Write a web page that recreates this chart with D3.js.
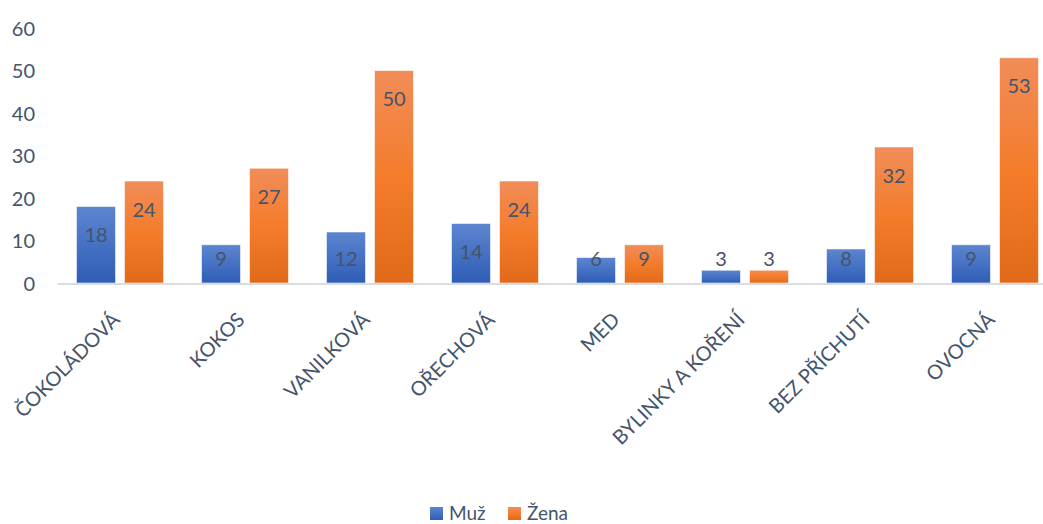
<!DOCTYPE html>
<html>
<head>
<meta charset="utf-8">
<script src="https://cdn.jsdelivr.net/npm/d3@7"></script>
<style>
  html, body { margin: 0; padding: 0; background: #ffffff; }
  svg { display: block; }
  text { font-family: Lato, "Open Sans", sans-serif; fill: #44546a; }
</style>
</head>
<body>
<svg id="chart" width="1043" height="524"></svg>
<script>
// Flavour preferences by gender
const categories = ["ČOKOLÁDOVÁ", "KOKOS", "VANILKOVÁ", "OŘECHOVÁ", "MED", "BYLINKY A KOŘENÍ", "BEZ PŘÍCHUTÍ", "OVOCNÁ"];
const seriesNames = ["Muž", "Žena"];
const muz = [18, 9, 12, 14, 6, 3, 8, 9];
const zena = [24, 27, 50, 24, 9, 3, 32, 53];
const yTicks = [0, 10, 20, 30, 40, 50, 60];

const svg = d3.select("#chart");
const W = 1043;

const x = d3.scaleBand().domain(categories).range([57.5, 1057.5]).paddingInner(0).paddingOuter(0);
const xs = d3.scaleBand().domain(seriesNames).range([0, x.bandwidth()]).paddingInner(0.1875).paddingOuter(0.396);
const y = d3.scaleLinear().domain([0, 60]).range([283, 28]);

// Gradients for the two series
const defs = svg.append("defs");
const grads = {
  "Muž": [["0%", "#5d85cf"], ["50%", "#4672c4"], ["100%", "#2e5db5"]],
  "Žena": [["0%", "#f18d59"], ["50%", "#f47c2b"], ["100%", "#e16a19"]]
};
seriesNames.forEach((s, i) => {
  const g = defs.append("linearGradient").attr("id", "grad" + i)
    .attr("x1", 0).attr("y1", 0).attr("x2", 0).attr("y2", 1);
  grads[s].forEach(([o, c]) => g.append("stop").attr("offset", o).attr("stop-color", c));
});

// Y axis labels (no axis line)
const yAxis = d3.axisLeft(y).tickValues(yTicks).tickSize(0).tickPadding(0);
const yg = svg.append("g").attr("transform", "translate(35,0)").call(yAxis);
yg.select(".domain").remove();
yg.selectAll("text").style("font-size", "20px").attr("fill", "#44546a").attr("dy", "0.36em")
  .style("font-family", "Lato, 'Open Sans', sans-serif");

const rows = categories.map((c, i) => ({ cat: c, values: [muz[i], zena[i]] }));

// Bars
const groups = svg.append("g").selectAll("g").data(rows).join("g")
  .attr("transform", d => `translate(${x(d.cat)},0)`);

groups.selectAll("rect").data(d => d.values.map((v, i) => ({ s: seriesNames[i], i, v })))
  .join("rect")
  .attr("x", d => xs(d.s))
  .attr("y", d => y(d.v))
  .attr("width", xs.bandwidth())
  .attr("height", d => y(0) - y(d.v))
  .attr("fill", d => `url(#grad${d.i})`)
  .attr("stroke", "#ffffff")
  .attr("stroke-opacity", 0.55)
  .attr("stroke-width", 1);

// Value labels, inside end of each bar
groups.selectAll("text.val").data(d => d.values.map((v, i) => ({ s: seriesNames[i], i, v })))
  .join("text")
  .attr("class", "val")
  .attr("x", d => xs(d.s) + xs.bandwidth() / 2)
  .attr("y", d => Math.min(y(d.v) + 28.5, y(0) - 24))
  .attr("dy", "0.36em")
  .attr("text-anchor", "middle")
  .style("font-size", "20px")
  .text(d => d.v);

// Category axis line
svg.append("line")
  .attr("x1", x.range()[0]).attr("x2", W)
  .attr("y1", y(0) + 1).attr("y2", y(0) + 1)
  .attr("stroke", "#d9dde3").attr("stroke-width", 2);

// Rotated category labels
svg.append("g").selectAll("text").data(categories).join("text")
  .attr("transform", d => `translate(${x(d) + x.bandwidth() / 2 - 9},311) rotate(-45)`)
  .attr("text-anchor", "end")
  .attr("dy", "0.71em")
  .style("font-size", "20px")
  .text(d => d);

// Legend
const legend = svg.append("g");
const legendPos = [430, 508];
seriesNames.forEach((s, i) => {
  const lg = legend.append("g").attr("transform", `translate(${legendPos[i]},507)`);
  lg.append("rect").attr("width", 13).attr("height", 13).attr("fill", `url(#grad${i})`);
  lg.append("text").attr("x", 19).attr("y", 13).style("font-size", "19px").text(s);
});
</script>
</body>
</html>
